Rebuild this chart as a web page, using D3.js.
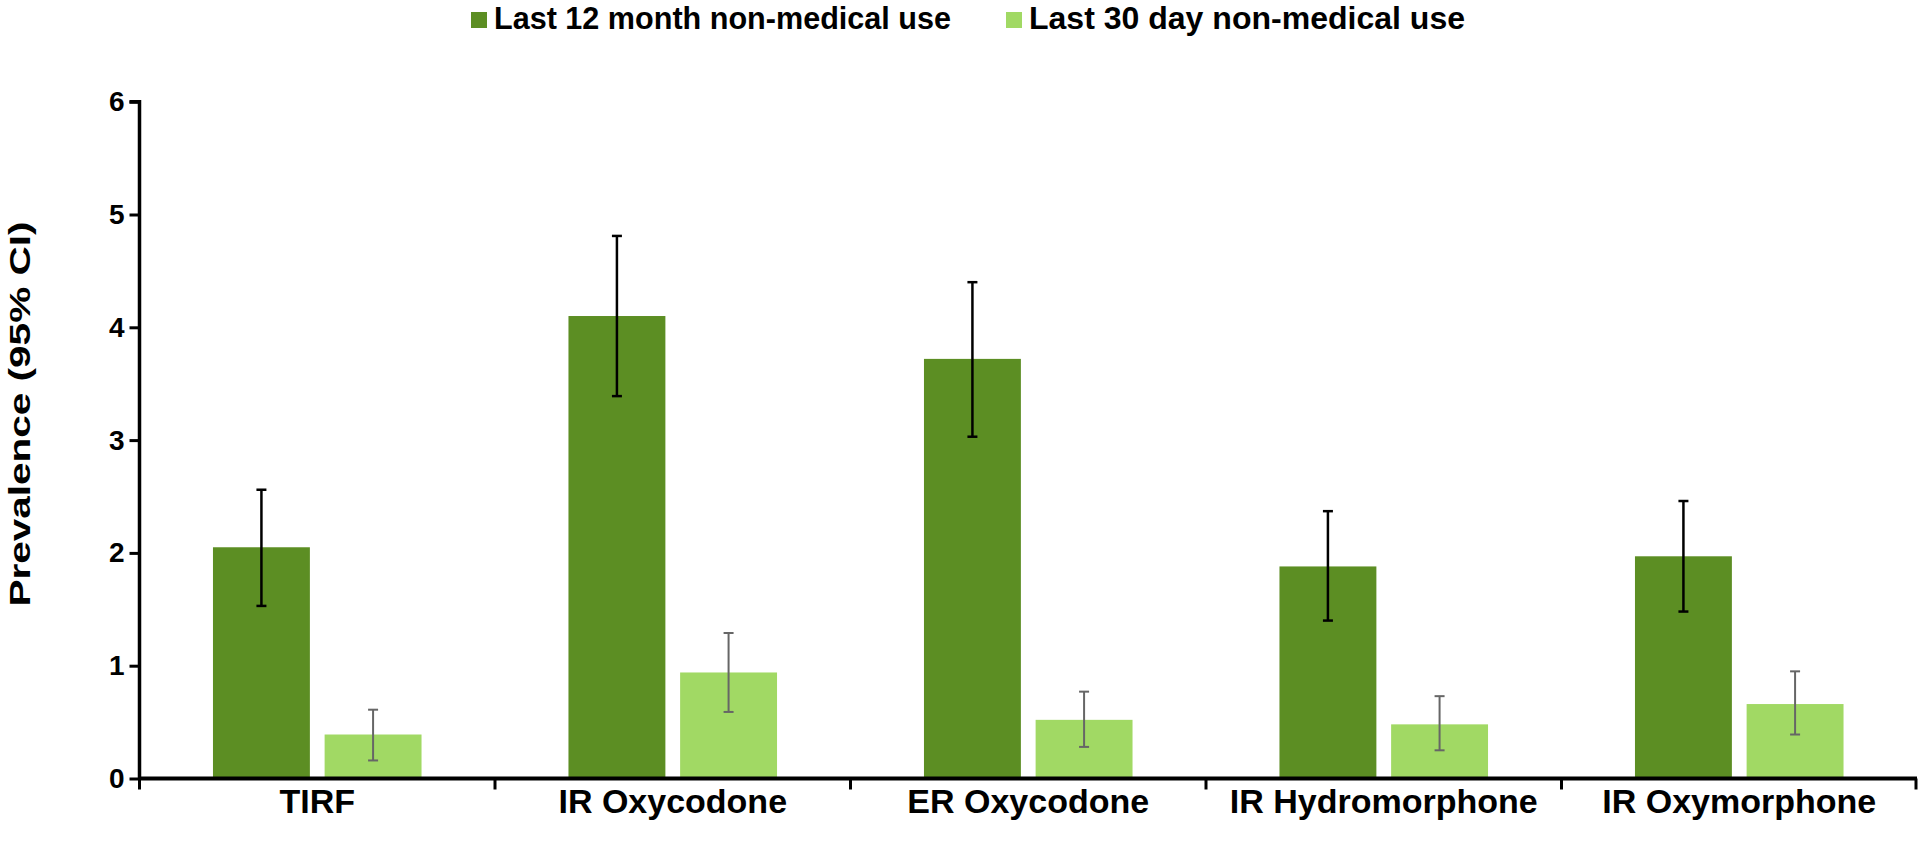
<!DOCTYPE html>
<html>
<head>
<meta charset="utf-8">
<script src="https://cdn.jsdelivr.net/npm/d3@7"></script>
<style>
  html, body { margin: 0; padding: 0; background: #fff; }
  svg { display: block; }
  text { font-family: "Liberation Sans", Arial, sans-serif; font-weight: bold; fill: #000; }
</style>
</head>
<body>
<svg id="chart" width="1919" height="845"></svg>
<script>
// Drug categories
const categories = ["TIRF", "IR Oxycodone", "ER Oxycodone", "IR Hydromorphone", "IR Oxymorphone"];

// Series names (legend)
const seriesNames = ["Last 12 month non-medical use", "Last 30 day non-medical use"];

// Last 12 month prevalence with 95% CI
const month12 = [2.05, 4.10, 3.72, 1.88, 1.97];
const month12Lo = [1.53, 3.39, 3.03, 1.40, 1.48];
const month12Hi = [2.56, 4.81, 4.40, 2.37, 2.46];

// Last 30 day prevalence with 95% CI
const day30 = [0.39, 0.94, 0.52, 0.48, 0.66];
const day30Lo = [0.16, 0.59, 0.28, 0.25, 0.39];
const day30Hi = [0.61, 1.29, 0.77, 0.73, 0.95];

// Y axis ticks
const yTicks = [0, 1, 2, 3, 4, 5, 6];

const colors = ["#5C8E23", "#A1D964"];
const errColors = ["#000000", "#666666"];

const svg = d3.select("#chart");

const plot = { left: 139.5, right: 1917, top: 101.7, bottom: 778.5 };

const x0 = d3.scaleBand()
  .domain(categories)
  .range([plot.left, plot.right])
  .paddingInner(0)
  .paddingOuter(0);

const x1 = d3.scaleBand()
  .domain(seriesNames)
  .range([0, x0.bandwidth()])
  .paddingInner(0.132)
  .paddingOuter(0.658);

const y = d3.scaleLinear().domain([0, 6]).range([plot.bottom, plot.top]);

const rows = categories.map((c, i) => ({
  cat: c,
  vals: [
    { s: seriesNames[0], v: month12[i], lo: month12Lo[i], hi: month12Hi[i], k: 0 },
    { s: seriesNames[1], v: day30[i], lo: day30Lo[i], hi: day30Hi[i], k: 1 }
  ]
}));

// Bars
const groups = svg.append("g").selectAll("g")
  .data(rows)
  .join("g")
  .attr("transform", d => `translate(${x0(d.cat)},0)`);

groups.selectAll("rect")
  .data(d => d.vals)
  .join("rect")
  .attr("x", d => x1(d.s))
  .attr("y", d => y(d.v))
  .attr("width", x1.bandwidth())
  .attr("height", d => y(0) - y(d.v))
  .attr("fill", d => colors[d.k]);

// Error bars (95% CI)
const capHalf = 5;
const errs = groups.selectAll("g.err")
  .data(d => d.vals)
  .join("g")
  .attr("class", "err")
  .attr("stroke", d => errColors[d.k])
  .attr("stroke-width", d => d.k === 0 ? 2.5 : 2);

const cx = d => x1(d.s) + x1.bandwidth() / 2;
errs.append("line")
  .attr("x1", cx).attr("x2", cx)
  .attr("y1", d => y(d.lo))
  .attr("y2", d => y(d.hi));
errs.append("line")
  .attr("x1", d => cx(d) - capHalf).attr("x2", d => cx(d) + capHalf)
  .attr("y1", d => y(d.hi)).attr("y2", d => y(d.hi));
errs.append("line")
  .attr("x1", d => cx(d) - capHalf).attr("x2", d => cx(d) + capHalf)
  .attr("y1", d => y(d.lo)).attr("y2", d => y(d.lo));

// Y axis
const yAxis = svg.append("g")
  .attr("transform", `translate(${plot.left},0)`)
  .call(d3.axisLeft(y).tickValues(yTicks).tickSize(10).tickPadding(5).tickFormat(d3.format("d")));
yAxis.select(".domain").attr("stroke", "#000").attr("stroke-width", 3.5)
  .attr("d", `M-10,${plot.top}H0V${plot.bottom + 1}`);
yAxis.selectAll(".tick line").attr("stroke", "#000").attr("stroke-width", 3);
yAxis.selectAll(".tick text")
  .attr("font-size", 28)
  .attr("font-family", "Liberation Sans, Arial, sans-serif")
  .attr("font-weight", "bold")
  .attr("fill", "#000");

// X axis with boundary ticks between categories
const xAxis = svg.append("g")
  .attr("transform", `translate(0,${plot.bottom})`);
xAxis.append("line")
  .attr("x1", plot.left - 1.5).attr("x2", plot.right)
  .attr("y1", 0).attr("y2", 0)
  .attr("stroke", "#000").attr("stroke-width", 4);
const bounds = categories.map(c => x0(c)).concat([plot.right - 1]);
xAxis.selectAll("line.bt")
  .data(bounds)
  .join("line")
  .attr("class", "bt")
  .attr("x1", d => d).attr("x2", d => d)
  .attr("y1", 0).attr("y2", 11)
  .attr("stroke", "#000").attr("stroke-width", 3);
xAxis.selectAll("text")
  .data(categories)
  .join("text")
  .attr("x", d => x0(d) + x0.bandwidth() / 2)
  .attr("y", 34)
  .attr("text-anchor", "middle")
  .attr("font-size", 34)
  .text(d => d);

// Y title
svg.append("text")
  .attr("transform", `translate(30,${(plot.top + plot.bottom) / 2 - 26}) rotate(-90)`)
  .attr("text-anchor", "middle")
  .attr("font-size", 30)
  .attr("textLength", 385)
  .attr("lengthAdjust", "spacingAndGlyphs")
  .text("Prevalence (95% CI)");

// Legend
const legendX = [471, 1006];
const legendW = [457, 436];
const leg = svg.append("g").selectAll("g")
  .data(seriesNames)
  .join("g")
  .attr("transform", (d, i) => `translate(${legendX[i]},0)`);
leg.append("rect")
  .attr("x", 0).attr("y", 12).attr("width", 16).attr("height", 16)
  .attr("fill", (d, i) => colors[i]);
leg.append("text")
  .attr("x", 23).attr("y", 29)
  .attr("font-size", 30.6)
  .attr("textLength", (d, i) => legendW[i])
  .attr("lengthAdjust", "spacingAndGlyphs")
  .text(d => d);
</script>
</body>
</html>
